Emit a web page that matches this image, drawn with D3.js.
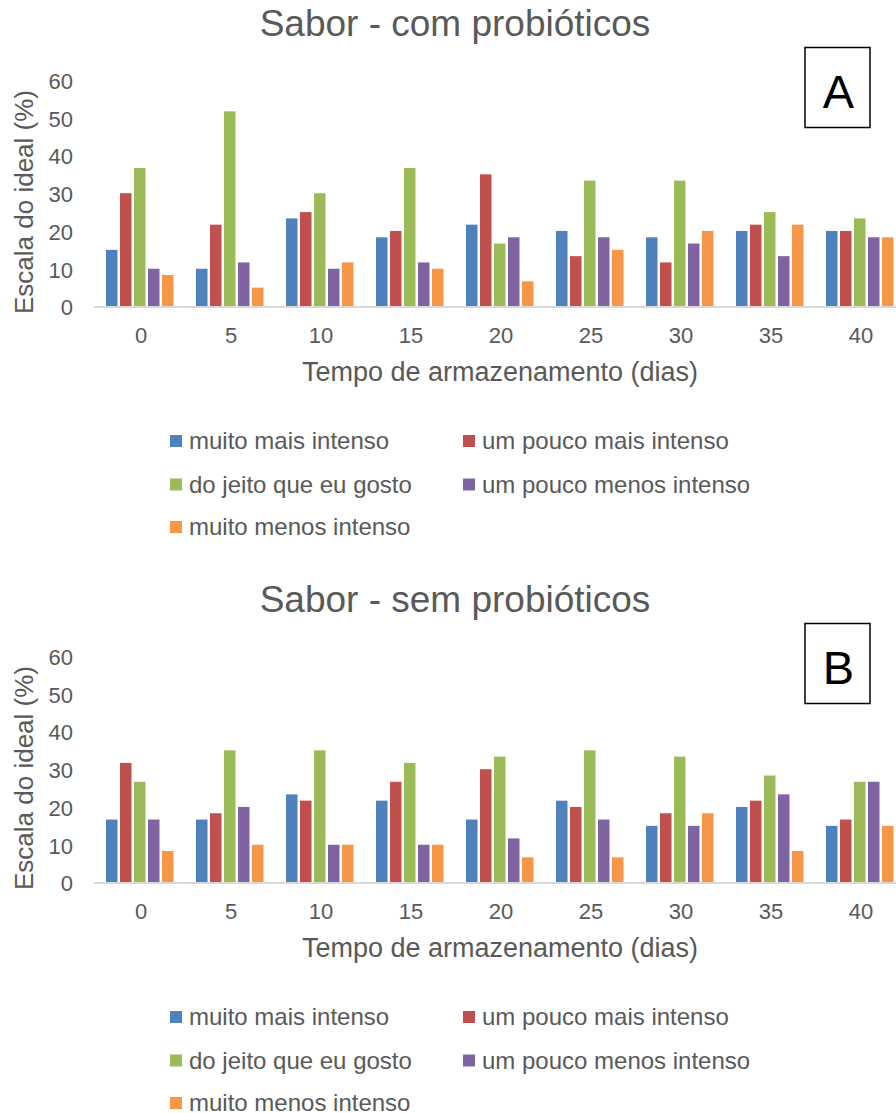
<!DOCTYPE html>
<html>
<head>
<meta charset="utf-8">
<script src="https://cdn.jsdelivr.net/npm/d3@7/dist/d3.min.js"></script>
<style>
  html, body { margin: 0; padding: 0; background: #fff; }
  svg text { font-family: "Liberation Sans", Arial, sans-serif; fill: #595959; }
</style>
</head>
<body>
<svg id="chart" width="896" height="1113"></svg>
<script>
// Storage days (x categories)
const dias = ["0", "5", "10", "15", "20", "25", "30", "35", "40"];

// Response categories of the just-about-right scale
const escala = [
  "muito mais intenso",
  "um pouco mais intenso",
  "do jeito que eu gosto",
  "um pouco menos intenso",
  "muito menos intenso"
];
const cores = ["#4F81BD", "#C0504D", "#9BBB59", "#8064A2", "#F79646"];

const yTicks = [0, 10, 20, 30, 40, 50, 60];

// Panel A – com probióticos (% of panelists per day)
const comMuitoMais   = [15.0, 10.0, 23.33, 18.33, 21.67, 20.0, 18.33, 20.0, 20.0];
const comPoucoMais   = [30.0, 21.67, 25.0, 20.0, 35.0, 13.33, 11.67, 21.67, 20.0];
const comJeito       = [36.67, 51.67, 30.0, 36.67, 16.67, 33.33, 33.33, 25.0, 23.33];
const comPoucoMenos  = [10.0, 11.67, 10.0, 11.67, 18.33, 18.33, 16.67, 13.33, 18.33];
const comMuitoMenos  = [8.33, 5.0, 11.67, 10.0, 6.67, 15.0, 20.0, 21.67, 18.33];

// Panel B – sem probióticos
const semMuitoMais   = [16.67, 16.67, 23.33, 21.67, 16.67, 21.67, 15.0, 20.0, 15.0];
const semPoucoMais   = [31.67, 18.33, 21.67, 26.67, 30.0, 20.0, 18.33, 21.67, 16.67];
const semJeito       = [26.67, 35.0, 35.0, 31.67, 33.33, 35.0, 33.33, 28.33, 26.67];
const semPoucoMenos  = [16.67, 20.0, 10.0, 10.0, 11.67, 16.67, 15.0, 23.33, 26.67];
const semMuitoMenos  = [8.33, 10.0, 10.0, 10.0, 6.67, 6.67, 18.33, 8.33, 15.0];

const paineis = [
  { titulo: "Sabor - com probióticos", letra: "A", dy: 0,
    series: [comMuitoMais, comPoucoMais, comJeito, comPoucoMenos, comMuitoMenos] },
  { titulo: "Sabor - sem probióticos", letra: "B", dy: 576,
    series: [semMuitoMais, semPoucoMais, semJeito, semPoucoMenos, semMuitoMenos] }
];

const svg = d3.select("#chart");

const x = d3.scaleBand().domain(dias).range([96, 906]).padding(0);
const xInner = d3.scaleBand().domain(escala).range([10, 80]).padding(0);
const y = d3.scaleLinear().domain([0, 60]).range([306.5, 79.9]);

paineis.forEach(p => {
  const g = svg.append("g").attr("transform", `translate(0,${p.dy})`);

  // title
  g.append("text")
    .attr("x", 455).attr("y", 36)
    .attr("text-anchor", "middle")
    .style("font-size", "37px")
    .text(p.titulo);

  // y axis labels (no axis line)
  const yAxis = d3.axisLeft(y).tickValues(yTicks).tickSize(0).tickPadding(0);
  const ya = g.append("g").attr("transform", "translate(73,0)").call(yAxis);
  ya.select(".domain").remove();
  ya.selectAll("text")
    .attr("x", 0)
    .style("font-size", "22px")
    .style("font-family", "'Liberation Sans', Arial, sans-serif")
    .attr("fill", "#595959")
    .attr("dy", "0.38em");

  // bars
  const data = [];
  dias.forEach((d, i) => escala.forEach((s, k) => {
    data.push({ dia: d, serie: s, k, v: p.series[k][i] });
  }));
  g.append("g").selectAll("rect")
    .data(data)
    .join("rect")
    .attr("x", d => x(d.dia) + xInner(d.serie))
    .attr("y", d => y(d.v))
    .attr("width", xInner.bandwidth() - 2.5)
    .attr("height", d => y(0) - y(d.v))
    .attr("fill", d => cores[d.k]);

  // x axis
  const xAxis = d3.axisBottom(x).tickSize(0).tickPadding(0);
  const xa = g.append("g").attr("transform", `translate(0,${y(0)})`).call(xAxis);
  xa.select(".domain").remove();
  xa.selectAll("text")
    .attr("y", 36.5)
    .attr("dy", 0)
    .style("font-size", "22px")
    .style("font-family", "'Liberation Sans', Arial, sans-serif")
    .attr("fill", "#595959");
  g.append("line")
    .attr("x1", 94).attr("x2", 906)
    .attr("y1", y(0) + 0.5).attr("y2", y(0) + 0.5)
    .attr("stroke", "#d9d9d9").attr("stroke-width", 2);

  // axis titles
  g.append("text")
    .attr("x", 500).attr("y", 381)
    .attr("text-anchor", "middle")
    .style("font-size", "27px")
    .text("Tempo de armazenamento (dias)");
  g.append("text")
    .attr("transform", "translate(33,202) rotate(-90)")
    .attr("text-anchor", "middle")
    .style("font-size", "26px")
    .text("Escala do ideal (%)");

  // panel letter box
  g.append("rect")
    .attr("x", 805).attr("y", 47.5).attr("width", 65).attr("height", 80)
    .attr("fill", "#fff").attr("stroke", "#000").attr("stroke-width", 1.5);
  g.append("text")
    .attr("x", 838.5).attr("y", 108)
    .attr("text-anchor", "middle")
    .style("font-size", "47px")
    .style("fill", "#000")
    .text(p.letra);

  // legend
  const legPos = [[170, 441], [463, 441], [170, 484.5], [463, 484.5], [170, 527]];
  const leg = g.append("g").selectAll("g")
    .data(escala)
    .join("g")
    .attr("transform", (d, i) => `translate(${legPos[i][0]},${legPos[i][1]})`);
  leg.append("rect")
    .attr("x", 0).attr("y", -6).attr("width", 12).attr("height", 12)
    .attr("fill", (d, i) => cores[i]);
  leg.append("text")
    .attr("x", 19).attr("y", 0).attr("dy", "0.35em")
    .style("font-size", "24px")
    .text(d => d);
});
</script>
</body>
</html>
